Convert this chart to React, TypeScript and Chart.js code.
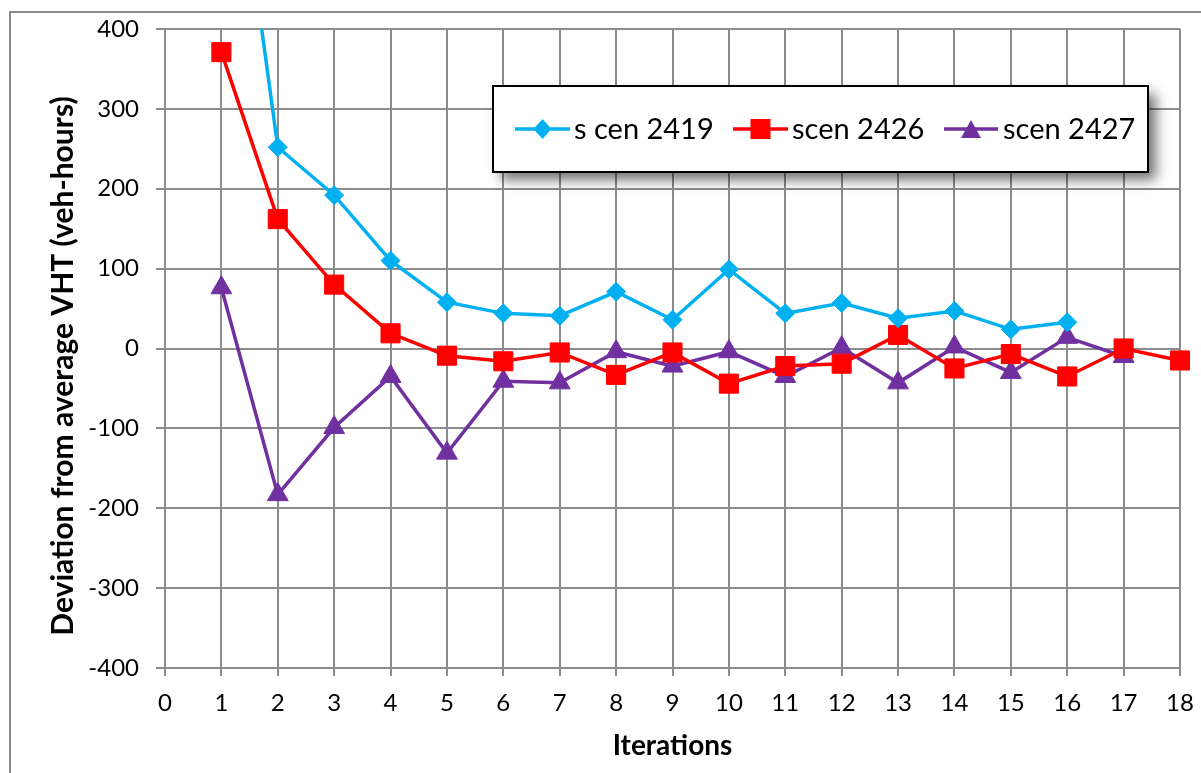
import React, { useEffect, useRef } from "react";
import { Chart, registerables } from "chart.js";

Chart.register(...registerables);

// ---- data ----
const iterations = [1, 2, 3, 4, 5, 6, 7, 8, 9, 10, 11, 12, 13, 14, 15, 16, 17, 18];
const scen2419 = [771, 252, 192, 110, 58, 44, 41, 71, 36, 99, 44, 57, 38, 47, 24, 33];
const scen2426 = [371, 162, 80, 19, -9, -16, -5, -33, -5, -44, -22, -19, 17, -25, -7, -35, 0, -15];
const scen2427 = [76, -183, -99, -35, -131, -41, -43, -4, -22, -4, -35, 1, -43, 2, -30, 14, -10];
const seriesNames = ["s cen 2419", "scen 2426", "scen 2427"];
const seriesColors = ["#00B0F0", "#FF0000", "#7030A0"];
const seriesStyles = ["rectRot", "rect", "triangle"];
const seriesRadii = [9.5, 13.5, 12];
const xMin = 0;
const xMax = 18;
const yMin = -400;
const yMax = 400;
const yStep = 100;
const xTitle = "Iterations";
const yTitle = "Deviation from average VHT (veh-hours)";

const FONT = "Lato, 'Open Sans', sans-serif";
const GRID = "#8c8c8c";

const toPoints = (vals: number[]) => vals.map((v, i) => ({ x: iterations[i], y: v }));

function drawMarker(ctx: CanvasRenderingContext2D, style: string, x: number, y: number, color: string) {
  ctx.fillStyle = color;
  ctx.beginPath();
  if (style === "rectRot") {
    ctx.moveTo(x, y - 10);
    ctx.lineTo(x + 9, y);
    ctx.lineTo(x, y + 10);
    ctx.lineTo(x - 9, y);
  } else if (style === "rect") {
    ctx.rect(x - 10, y - 10, 20, 20);
  } else {
    ctx.moveTo(x, y - 9);
    ctx.lineTo(x + 10, y + 9);
    ctx.lineTo(x - 10, y + 9);
  }
  ctx.closePath();
  ctx.fill();
}

const framePlugin = {
  id: "frame",
  beforeDraw(chart: any) {
    const ctx = chart.ctx;
    ctx.save();
    ctx.fillStyle = "#ffffff";
    ctx.fillRect(0, 0, chart.width, chart.height);
    ctx.strokeStyle = "#8a8a8a";
    ctx.lineWidth = 2;
    ctx.strokeRect(10, 12, 1400, 1000);
    ctx.restore();
  },
  afterDraw(chart: any) {
    // vertical axis title, placed as in the reference
    const ctx: CanvasRenderingContext2D = chart.ctx;
    ctx.save();
    ctx.translate(63, 366);
    ctx.rotate(-Math.PI / 2);
    ctx.fillStyle = "#000000";
    ctx.font = `bold 30px ${FONT}`;
    ctx.textAlign = "center";
    ctx.textBaseline = "middle";
    ctx.fillText(yTitle, 0, 0);
    ctx.restore();
  },
};

const legendPlugin = {
  id: "boxLegend",
  afterDraw(chart: any) {
    const ctx: CanvasRenderingContext2D = chart.ctx;
    const bx = 493, by = 86, bw = 655, bh = 86;
    ctx.save();
    ctx.shadowColor = "rgba(0,0,0,0.55)";
    ctx.shadowBlur = 12;
    ctx.shadowOffsetX = 8;
    ctx.shadowOffsetY = 8;
    ctx.fillStyle = "#ffffff";
    ctx.fillRect(bx, by, bw, bh);
    ctx.restore();
    ctx.save();
    ctx.strokeStyle = "#000000";
    ctx.lineWidth = 2;
    ctx.strokeRect(bx, by, bw, bh);
    const entries = [
      { x0: 515, x1: 570, tx: 574 },
      { x0: 733, x1: 788, tx: 792 },
      { x0: 944, x1: 998, tx: 1003 },
    ];
    const cy = 129;
    chart.data.datasets.forEach((ds: any, i: number) => {
      const e = entries[i];
      ctx.strokeStyle = ds.borderColor;
      ctx.lineWidth = 3.5;
      ctx.beginPath();
      ctx.moveTo(e.x0, cy);
      ctx.lineTo(e.x1, cy);
      ctx.stroke();
      drawMarker(ctx, ds.pointStyle, (e.x0 + e.x1) / 2, cy, ds.borderColor);
      ctx.fillStyle = "#000000";
      ctx.font = `29px ${FONT}`;
      ctx.textBaseline = "middle";
      ctx.textAlign = "left";
      ctx.fillText(ds.label, e.tx, cy + 1);
    });
    ctx.restore();
  },
};

export default function App() {
  const ref = useRef<HTMLCanvasElement | null>(null);

  useEffect(() => {
    document.body.style.margin = "0";
    const canvas = ref.current;
    if (!canvas) return;
    const series = [scen2419, scen2426, scen2427];
    const chart = new Chart(canvas, {
      type: "line",
      data: {
        datasets: series.map((vals, i) => ({
          label: seriesNames[i],
          data: toPoints(vals),
          borderColor: seriesColors[i],
          backgroundColor: seriesColors[i],
          pointBackgroundColor: seriesColors[i],
          pointBorderColor: seriesColors[i],
          pointStyle: seriesStyles[i] as any,
          pointRadius: seriesRadii[i],
          pointHoverRadius: seriesRadii[i],
          pointBorderWidth: 1,
          borderWidth: 3.5,
          tension: 0,
          fill: false,
          clip: { left: 30, top: 0, right: 30, bottom: 30 } as any,
        })),
      },
      options: {
        animation: false,
        responsive: false,
        maintainAspectRatio: false,
        devicePixelRatio: 1,
        layout: { padding: { top: 29, right: 21, left: 0, bottom: 0 } },
        plugins: {
          legend: { display: false },
          tooltip: { enabled: false },
        },
        scales: {
          x: {
            type: "linear",
            min: xMin,
            max: xMax,
            afterFit: (s: any) => {
              s.height = 105;
              s.paddingLeft = 0;
              s.paddingRight = 0;
            },
            ticks: {
              stepSize: 1,
              color: "#000000",
              font: { family: FONT, size: 24 },
              padding: 13,
              maxRotation: 0,
              autoSkip: false,
            },
            grid: {
              color: GRID,
              lineWidth: 2,
              tickLength: 8,
              tickColor: GRID,
              tickWidth: 2,
            },
            border: { color: GRID, width: 2 },
            title: {
              display: true,
              text: xTitle,
              color: "#000000",
              font: { family: FONT, size: 28, weight: "bold" },
              padding: { top: 0, bottom: 10 },
            },
          },
          y: {
            type: "linear",
            min: yMin,
            max: yMax,
            afterFit: (s: any) => {
              s.width = 165;
              s.paddingTop = 0;
              s.paddingBottom = 0;
            },
            ticks: {
              stepSize: yStep,
              color: "#000000",
              font: { family: FONT, size: 24 },
              padding: 17,
            },
            grid: {
              color: GRID,
              lineWidth: 2,
              tickLength: 9,
              tickColor: GRID,
              tickWidth: 2,
            },
            border: { color: GRID, width: 2 },
            title: { display: false, text: yTitle },
          },
        },
      },
      plugins: [framePlugin, legendPlugin],
    });
    return () => chart.destroy();
  }, []);

  return (
    <div style={{ position: "absolute", left: 0, top: 0, width: 1201, height: 773 }}>
      <canvas ref={ref} width={1201} height={773} style={{ width: 1201, height: 773, display: "block" }} />
    </div>
  );
}
